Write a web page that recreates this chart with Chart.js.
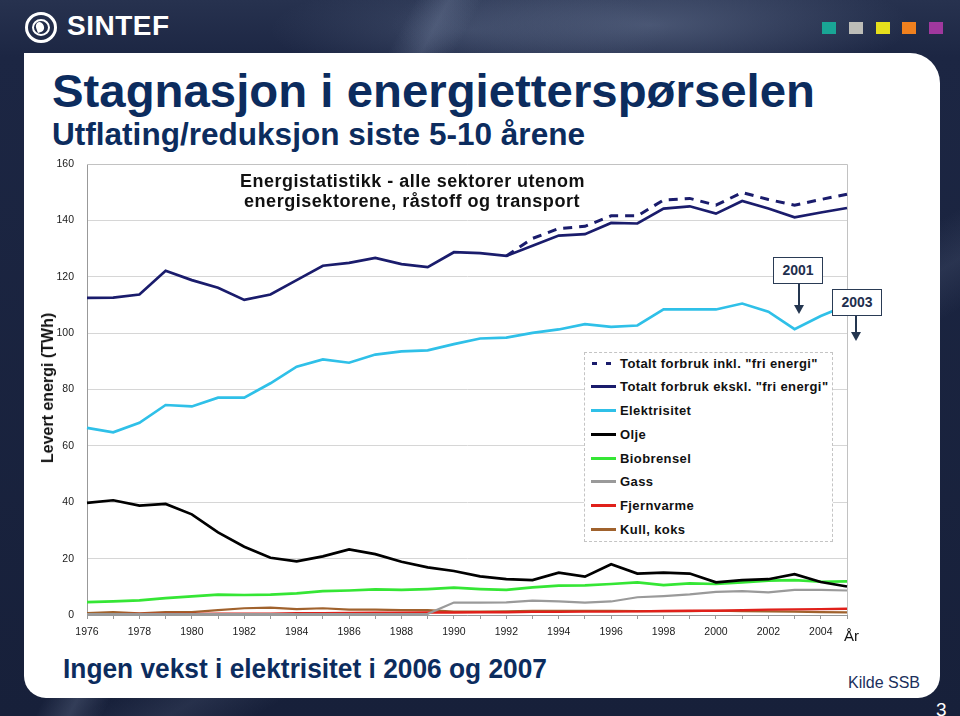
<!DOCTYPE html>
<html lang="no">
<head>
<meta charset="utf-8">
<title>Stagnasjon i energietterspørselen</title>
<script src="https://cdn.jsdelivr.net/npm/chart.js@4.4.1/dist/chart.umd.min.js"></script>
<style>
*{box-sizing:border-box}
html,body{margin:0;padding:0}
body{width:960px;height:716px;overflow:hidden;position:relative;font-family:"Liberation Sans",Arial,Helvetica,sans-serif;background:#1c2643;}
#bg{position:absolute;left:0;top:0;width:960px;height:716px;background:
  linear-gradient(118deg, rgba(0,0,0,0) 0 31%, rgba(150,165,195,.22) 33.5%, rgba(0,0,0,0) 36%),
  linear-gradient(150deg, rgba(0,0,0,0) 0 60%, rgba(150,165,195,.12) 64%, rgba(0,0,0,0) 68%),
  radial-gradient(ellipse 260px 60px at 650px 25px, rgba(120,135,165,.45), rgba(0,0,0,0)),
  radial-gradient(ellipse 200px 50px at 470px 30px, rgba(110,125,155,.30), rgba(0,0,0,0)),
  linear-gradient(180deg,#27324f 0%,#1c2643 8%,#17203a 100%);}
#card{position:absolute;left:24px;top:53px;width:916px;height:645px;background:#fff;border-radius:0 30px 22px 22px;}
.logo{position:absolute;left:25px;top:12px;width:32px;height:31px;border-radius:50%;border:3px solid #fff;}
.logo .in{position:absolute;left:4px;top:4px;width:18px;height:17px;border-radius:50%;border:2px solid #fff;}
.logo .sw{position:absolute;left:8px;top:7px;width:8px;height:10px;border-radius:50% 50% 50% 0;background:#fff;transform:rotate(-20deg);}
.brand{position:absolute;left:67px;top:12px;font-size:28px;font-weight:bold;color:#fff;line-height:1;letter-spacing:0.5px;}
.sq{position:absolute;top:22px;width:14px;height:12px;}
.t{position:absolute;white-space:nowrap;line-height:1;}
#title{left:52px;top:67px;font-size:47px;font-weight:bold;color:#0c2c5e;}
#subtitle{left:52px;top:119px;font-size:31px;font-weight:bold;color:#0c2c5e;}
#footer{left:63px;top:656px;font-size:27px;font-weight:bold;color:#0c2c5e;}
#kilde{left:848px;top:675px;font-size:16px;color:#1b2f5c;}
#page{left:936px;top:700px;font-size:19px;color:#fff;}
#c{position:absolute;left:0;top:0;z-index:1;}
.ov{z-index:2;}
.ct{font-size:18px;font-weight:bold;color:#111;letter-spacing:0.5px;}
#ytitle{position:absolute;left:48px;top:388px;transform:translate(-50%,-50%) rotate(-90deg);white-space:nowrap;font-size:16px;font-weight:bold;color:#111;z-index:2;}
#ar{left:844px;top:628px;font-size:15px;color:#111;}
#legend{position:absolute;left:584px;top:352px;width:249px;height:190px;border:1px dashed #c4c4c4;background:#fff;z-index:2;}
.li{position:absolute;left:0;height:0;}
.li .sm{position:absolute;left:6px;width:25px;height:3px;top:-1.5px;}
.li .lt{position:absolute;left:35px;top:-6.5px;font-size:13px;font-weight:bold;color:#111;white-space:nowrap;line-height:1;letter-spacing:0.4px;}
.box{position:absolute;width:50px;height:27px;border:1.5px solid #2a3b55;background:#fff;z-index:3;font-size:14px;font-weight:bold;color:#1f2f4e;text-align:center;line-height:24px;}
.arr{position:absolute;width:1.6px;background:#243650;z-index:3;}
.tip{position:absolute;width:0;height:0;border-left:5px solid transparent;border-right:5px solid transparent;border-top:9px solid #243650;z-index:3;}
</style>
</head>
<body>
<div id="bg"></div>
<div class="logo"><div class="in"></div><div class="sw"></div></div>
<div class="brand">SINTEF</div>
<div class="sq" style="left:822px;background:#19a595"></div>
<div class="sq" style="left:849px;background:#bdbdb8"></div>
<div class="sq" style="left:876px;background:#e6df1c"></div>
<div class="sq" style="left:902px;background:#f0801e"></div>
<div class="sq" style="left:929px;background:#a0389e"></div>
<div id="card"></div>
<div class="t" id="title" data-w="763">Stagnasjon i energietterspørselen</div>
<div class="t" id="subtitle" data-w="533">Utflating/reduksjon siste 5-10 årene</div>
<canvas id="c" width="960" height="716"></canvas>
<div class="t ov ct" id="ct1" style="top:172px" data-c="412" data-w="345">Energistatistikk - alle sektorer utenom</div>
<div class="t ov ct" id="ct2" style="top:192px" data-c="412" data-w="336">energisektorene, råstoff og transport</div>
<div id="ytitle">Levert energi (TWh)</div>
<div class="t ov" id="ar">År</div>
<div id="legend"></div>
<div class="box" style="left:773px;top:257px">2001</div>
<div class="arr" style="left:798px;top:284px;height:23px"></div>
<div class="tip" style="left:794px;top:305px"></div>
<div class="box" style="left:832px;top:289px">2003</div>
<div class="arr" style="left:855px;top:316px;height:18px"></div>
<div class="tip" style="left:851px;top:332px"></div>
<div class="t" id="footer" data-w="484">Ingen vekst i elektrisitet i 2006 og 2007</div>
<div class="t" id="kilde">Kilde SSB</div>
<div class="t" id="page">3</div>
<script>
// ---- data ----
const years = ['1976','1977','1978','1979','1980','1981','1982','1983','1984','1985','1986','1987','1988','1989','1990','1991','1992','1993','1994','1995','1996','1997','1998','1999','2000','2001','2002','2003','2004','2005'];
const seriesNames = ['Totalt forbruk inkl. "fri energi"','Totalt forbruk ekskl. "fri energi"','Elektrisitet','Olje','Biobrensel','Gass','Fjernvarme','Kull, koks'];
const totalInkl = [null,null,null,null,null,null,null,null,null,null,null,null,null,null,null,null,127.4,133.6,137.1,137.9,141.6,141.6,147.2,147.8,145.4,149.9,147.4,145.4,147.4,149.3];
const totalEkskl = [112.5,112.6,113.7,122.1,118.8,116.1,111.8,113.7,118.8,123.9,124.9,126.7,124.5,123.4,128.7,128.4,127.4,131.0,134.6,135.1,139.1,138.9,144.2,145.0,142.4,146.9,144.2,141.1,142.8,144.4];
const elektrisitet = [66.4,64.8,68.2,74.5,74.0,77.1,77.1,82.2,88.1,90.7,89.5,92.4,93.5,93.9,96.1,98.1,98.4,100.1,101.3,103.2,102.2,102.7,108.4,108.4,108.4,110.5,107.6,101.4,106.1,109.9];
const olje = [39.8,40.7,38.8,39.4,35.7,29.3,24.2,20.3,19.0,20.8,23.3,21.6,18.9,16.9,15.6,13.7,12.7,12.4,15.0,13.6,18.0,14.7,15.0,14.7,11.6,12.4,12.7,14.5,11.7,10.1];
const biobrensel = [4.6,4.8,5.2,6.0,6.6,7.2,7.1,7.2,7.7,8.5,8.7,9.1,8.9,9.2,9.7,9.2,8.9,9.8,10.4,10.5,11.0,11.6,10.6,11.2,11.0,11.6,12.2,12.4,11.8,11.9];
const gass = [0.3,0.3,0.3,0.3,0.3,0.3,0.3,0.3,0.3,0.3,0.3,0.3,0.3,0.4,4.4,4.4,4.5,5.1,4.8,4.4,4.8,6.3,6.7,7.3,8.2,8.5,8.0,8.9,8.9,8.7];
const fjernvarme = [0.3,0.3,0.4,0.4,0.4,0.5,0.5,0.5,0.6,0.6,0.7,0.8,0.8,0.9,0.9,1.0,1.0,1.1,1.1,1.2,1.2,1.3,1.4,1.5,1.5,1.7,1.9,2.0,2.1,2.2];
const kull = [0.7,1.0,0.6,1.0,1.0,1.7,2.4,2.6,2.1,2.4,1.9,1.9,1.7,1.7,1.2,1.2,1.3,1.5,1.5,1.5,1.5,1.4,1.4,1.4,1.5,1.4,1.3,1.2,1.0,0.9];
const yMin = 0, yMax = 160, yStep = 20;

// ---- styles ----
const colors = ['#1a1c6c','#1a1c6c','#2fc0e8','#000000','#35e635','#9a9a9a','#e0201a','#a0622d'];
const widths = [3,2.7,2.7,2.7,2.7,2.2,2.4,2.2];
const allData = [totalInkl,totalEkskl,elektrisitet,olje,biobrensel,gass,fjernvarme,kull];

const datasets = allData.map((d,i)=>({
  label: seriesNames[i], data: d, borderColor: colors[i], backgroundColor: colors[i],
  borderWidth: widths[i], pointRadius: 0, tension: 0, fill: false,
  borderDash: i===0 ? [9,7] : [], spanGaps: false
}));

const areaBorder = {
  id:'areaBorder',
  beforeDatasetsDraw(chart){
    const {ctx, chartArea:a} = chart;
    ctx.save();
    ctx.strokeStyle = '#c2c2c2'; ctx.lineWidth = 1;
    ctx.beginPath();
    ctx.moveTo(a.left, a.top+0.5); ctx.lineTo(a.right+0.5, a.top+0.5); ctx.lineTo(a.right+0.5, a.bottom);
    ctx.stroke();
    ctx.restore();
  }
};

new Chart(document.getElementById('c'), {
  type:'line',
  data:{labels: years, datasets},
  options:{
    responsive:false, animation:false, devicePixelRatio:1,
    layout:{padding:{left:40,right:113,top:164,bottom:71}},
    plugins:{legend:{display:false}, tooltip:{enabled:false}, title:{display:false}},
    scales:{
      x:{
        type:'category', offset:false,
        grid:{drawOnChartArea:false, tickLength:4, color:'#999'},
        border:{color:'#999'},
        ticks:{autoSkip:false, maxRotation:0, minRotation:0, padding:7, color:'#1a1a1a',
          font:{family:'"Liberation Sans", Arial, sans-serif', size:10.5},
          callback:(v,i)=> (i%2===0 ? years[i] : '')},
        afterFit(s){ s.height = 30; }
      },
      y:{
        min:yMin, max:yMax,
        grid:{color:'#d6d6d6', drawTicks:false},
        border:{color:'#999'},
        ticks:{stepSize:yStep, padding:13, color:'#1a1a1a', font:{family:'"Liberation Sans", Arial, sans-serif', size:10.5}},
        afterFit(s){ s.width = 47; }
      }
    }
  },
  plugins:[areaBorder]
});

// ---- legend ----
const legend = document.getElementById('legend');
const legY = [363, 386.7, 410.5, 434.3, 458, 481.7, 505.5, 529.2];
seriesNames.forEach((n,i)=>{
  const it = document.createElement('div');
  it.className='li'; it.style.top = (legY[i]-353)+'px';
  const sm = document.createElement('div'); sm.className='sm';
  if(i===0){ sm.style.background = 'repeating-linear-gradient(90deg,'+colors[0]+' 0 5px, transparent 5px 14px)'; sm.style.left='7px'; sm.style.width='20px'; }
  else { sm.style.background = colors[i]; }
  const lt = document.createElement('div'); lt.className='lt'; lt.textContent = n;
  it.appendChild(sm); it.appendChild(lt); legend.appendChild(it);
});

// ---- fit text widths ----
document.querySelectorAll('[data-w]').forEach(el=>{
  const w = +el.dataset.w;
  const nat = el.getBoundingClientRect().width;
  const r = w/nat;
  if(el.dataset.c){
    el.style.left = (+el.dataset.c - w/2)+'px';
  }
  el.style.transformOrigin = 'left center';
  el.style.transform = 'scaleX('+r+')';
});
</script>
</body>
</html>
